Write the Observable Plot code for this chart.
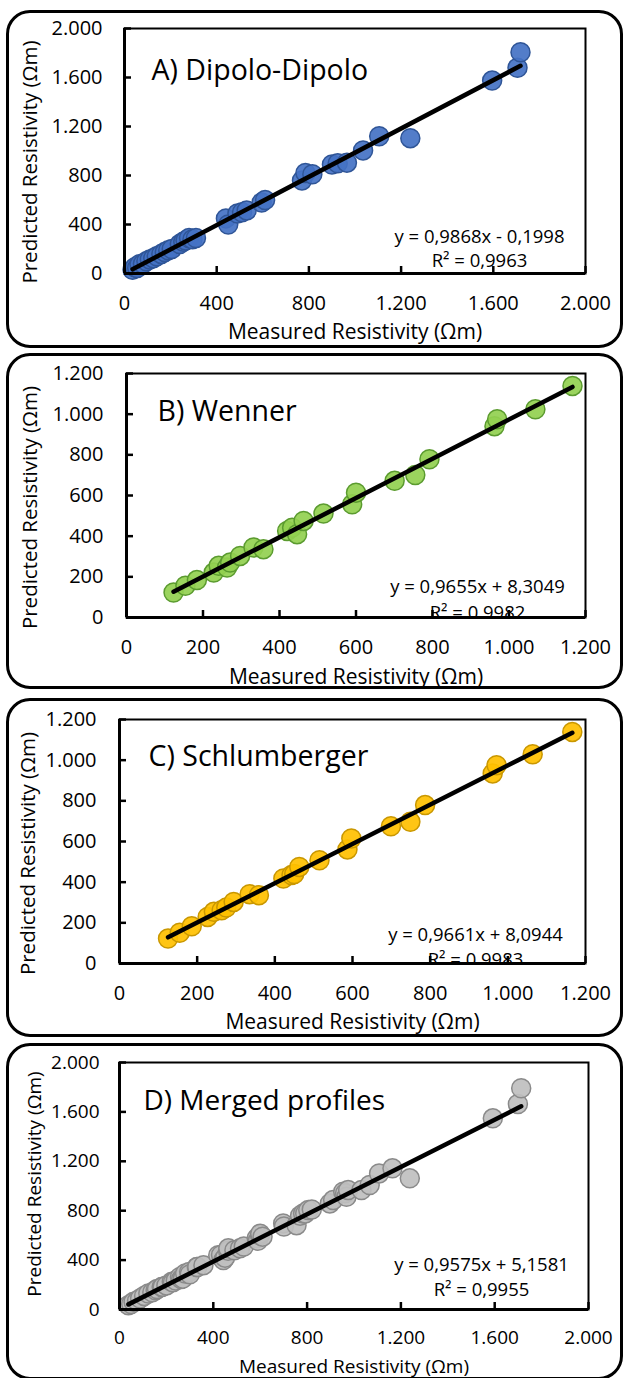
<!DOCTYPE html>
<html><head><meta charset="utf-8">
<script src="https://cdn.jsdelivr.net/npm/d3@7"></script>
<script src="https://cdn.jsdelivr.net/npm/@observablehq/plot@0.6"></script>
<style>
html,body{margin:0;padding:0;background:#fff;}
#wrap{position:relative;width:625px;height:1378px;overflow:hidden;font-family:"Open Sans",sans-serif;}
.box{position:absolute;border:3px solid #000;border-radius:24px;box-sizing:border-box;}
.panel{position:absolute;left:0;}
</style></head><body><div id="wrap"></div>
<script>
// ---------- data ----------
const panelTitles = ["A) Dipolo-Dipolo", "B) Wenner", "C) Schlumberger", "D) Merged profiles"];
const xAxisTitle = "Measured Resistivity (Ωm)";
const yAxisTitle = "Predicted Resistivity (Ωm)";

const dipoloMeasured  = [35, 45, 55, 65, 80, 95, 110, 125, 140, 160, 175, 190, 205, 240, 255, 265, 280, 295, 310, 440, 450, 490, 510, 530, 595, 610, 770, 785, 815, 900, 925, 965, 1035, 1105, 1240, 1595, 1705, 1718];
const dipoloPredicted = [30, 51, 45, 75, 80, 100, 115, 125, 140, 160, 175, 190, 200, 240, 260, 270, 290, 280, 290, 450, 400, 490, 500, 515, 580, 600, 760, 820, 810, 890, 900, 905, 1005, 1120, 1105, 1575, 1680, 1806];

const wennerMeasured  = [123, 154, 184, 228, 241, 263, 271, 297, 332, 358, 420, 433, 446, 463, 515, 590, 600, 701, 755, 792, 962, 969, 1069, 1166];
const wennerPredicted = [123, 156, 184, 221, 254, 246, 270, 303, 344, 336, 426, 442, 410, 475, 511, 557, 614, 672, 701, 778, 941, 975, 1024, 1139];

const schlumMeasured  = [125, 155, 186, 227, 243, 263, 275, 294, 335, 359, 422, 443, 450, 463, 515, 587, 597, 699, 749, 787, 961, 971, 1064, 1166];
const schlumPredicted = [123, 151, 183, 229, 254, 262, 275, 303, 341, 336, 418, 435, 440, 475, 508, 561, 615, 675, 697, 779, 935, 975, 1029, 1139];

const mergedMeasured  = [38, 50, 60, 75, 88, 105, 123, 140, 154, 160, 180, 184, 200, 223, 228, 240, 258, 263, 270, 280, 297, 300, 330, 332, 358, 421, 433, 443, 450, 463, 464, 490, 514, 530, 585, 590, 599, 600, 610, 698, 701, 755, 770, 783, 792, 805, 820, 897, 911, 954, 962, 968, 975, 1032, 1067, 1107, 1164, 1238, 1592, 1699, 1713];
const mergedPredicted = [35, 45, 62, 70, 89, 110, 130, 140, 156, 165, 183, 184, 195, 224, 221, 235, 264, 246, 250, 292, 303, 285, 345, 344, 359, 440, 442, 400, 420, 475, 495, 480, 495, 510, 576, 557, 602, 614, 590, 697, 672, 683, 760, 778, 778, 805, 810, 859, 886, 954, 941, 913, 967, 967, 1008, 1102, 1143, 1062, 1548, 1664, 1792];

const slopes     = [0.9868, 0.9655, 0.9661, 0.9575];
const intercepts = [-0.1998, 8.3049, 8.0944, 5.1581];
const rSquared   = [0.9963, 0.9982, 0.9983, 0.9955];

const ticks2000 = [0, 400, 800, 1200, 1600, 2000];
const ticks1200 = [0, 200, 400, 600, 800, 1000, 1200];

const fills   = ["#4472C4", "#92D050", "#FFC000", "#BFBFBF"];
const strokes = ["#2F5597", "#5B9B2F", "#C99700", "#8A8A8A"];

// ---------- layout ----------
const layouts = [
  {box:{top:10,left:6,width:617,height:338}, svgTop:0, h:350, ml:124, mr:40, mt:28, mb:77,
   title:{dx:27,dy:31,fs:28.5}, eq:{dx:-106,dy1:-44,dy2:-20,fs:18.5}, xl:{dy:51,fs:21}, yl:{dx:-94,dy:11,fs:20.5}, tfs:20, tpx:22, tpy:22},
  {box:{top:353,left:6,width:617,height:336}, svgTop:350, h:345, ml:126, mr:40, mt:23, mb:78,
   title:{dx:31,dy:27,fs:28.5}, eq:{dx:-108,dy1:-38,dy2:-12,fs:18.5}, xl:{dy:52,fs:21}, yl:{dx:-96,dy:12,fs:20.5}, tfs:20, tpx:22, tpy:23},
  {box:{top:698,left:6,width:617,height:339}, svgTop:695, h:345, ml:119, mr:40, mt:24, mb:77,
   title:{dx:29,dy:26,fs:28.5}, eq:{dx:-110,dy1:-36,dy2:-11,fs:18.5}, xl:{dy:51,fs:21}, yl:{dx:-91,dy:12,fs:20.5}, tfs:20, tpx:22, tpy:23},
  {box:{top:1043,left:6,width:617,height:337}, svgTop:1040, h:338, ml:119, mr:37, mt:22, mb:69,
   title:{dx:24,dy:28,fs:28}, eq:{dx:-107,dy1:-52,dy2:-27,fs:18.5}, xl:{dy:50,fs:19}, yl:{dx:-85,dy:-2,fs:19}, tfs:19, tpx:21, tpy:20}
];

const series = [
  [dipoloMeasured, dipoloPredicted, ticks2000],
  [wennerMeasured, wennerPredicted, ticks1200],
  [schlumMeasured, schlumPredicted, ticks1200],
  [mergedMeasured, mergedPredicted, ticks2000]
];

const fmtTick = v => d3.format(",")(v).replace(/,/g, ".");
const fmtDec = v => v.toFixed(4).replace(".", ",");

const wrap = document.getElementById("wrap");

series.forEach(([xs, ys, ticks], i) => {
  const L = layouts[i];
  const box = document.createElement("div");
  box.className = "box";
  Object.assign(box.style, {top: L.box.top + "px", left: L.box.left + "px", width: L.box.width + "px", height: L.box.height + "px"});
  wrap.appendChild(box);

  const pts = xs.map((x, k) => ({x, y: ys[k]}));
  const a = slopes[i], b = intercepts[i];
  const [x0, x1] = d3.extent(xs);
  const trend = [{x: x0, y: a * x0 + b}, {x: x1, y: a * x1 + b}];
  const eqText = `y = ${fmtDec(a)}x ${b < 0 ? "-" : "+"} ${fmtDec(Math.abs(b))}`;
  const r2Text = `R² = ${fmtDec(rSquared[i])}`;
  const dmax = ticks[ticks.length - 1];

  const chart = Plot.plot({
    width: 625, height: L.h,
    marginLeft: L.ml, marginRight: L.mr, marginTop: L.mt, marginBottom: L.mb,
    x: {domain: [0, dmax], axis: null},
    y: {domain: [0, dmax], axis: null},
    style: {fontFamily: "'Open Sans', sans-serif", color: "#000", background: "transparent", overflow: "visible"},
    marks: [
      Plot.frame({stroke: "#000", strokeWidth: 2}),
      Plot.dot(pts, {x: "x", y: "y", r: 9.5, fill: fills[i], fillOpacity: 0.92, stroke: strokes[i], strokeWidth: 1.5}),
      Plot.line(trend, {x: "x", y: "y", stroke: "#000", strokeWidth: 4.5}),
      Plot.ruleX([0], {stroke: "#000", strokeWidth: 3}),
      Plot.ruleY([0], {stroke: "#000", strokeWidth: 3}),
      Plot.axisX({ticks, tickSize: 7, dy: -7, tickFormat: () => "", strokeWidth: 2.5, label: null}),
      Plot.axisY({ticks, tickSize: 7, dx: 7, tickFormat: () => "", strokeWidth: 2.5, label: null}),
      Plot.axisX({ticks, tickSize: 0, tickPadding: L.tpx, tickFormat: fmtTick, fontSize: L.tfs, label: null, fill: "#000"}),
      Plot.axisY({ticks, tickSize: 0, tickPadding: L.tpy, tickFormat: fmtTick, fontSize: L.tfs, label: null, fill: "#000"}),
      Plot.text([panelTitles[i]], {frameAnchor: "top-left", dx: L.title.dx, dy: L.title.dy, textAnchor: "start", lineAnchor: "top", fontSize: L.title.fs, fill: "#000"}),
      Plot.text([eqText], {frameAnchor: "bottom-right", dx: L.eq.dx, dy: L.eq.dy1, textAnchor: "middle", lineAnchor: "top", fontSize: L.eq.fs, fill: "#000", clip: "frame"}),
      Plot.text([r2Text], {frameAnchor: "bottom-right", dx: L.eq.dx, dy: L.eq.dy2, textAnchor: "middle", lineAnchor: "top", fontSize: L.eq.fs, fill: "#000", clip: "frame"}),
      Plot.text([xAxisTitle], {frameAnchor: "bottom", dy: L.xl.dy, textAnchor: "middle", lineAnchor: "top", fontSize: L.xl.fs, fill: "#000"}),
      Plot.text([yAxisTitle], {frameAnchor: "left", dx: L.yl.dx, dy: L.yl.dy, rotate: -90, textAnchor: "middle", lineAnchor: "middle", fontSize: L.yl.fs, fill: "#000"})
    ]
  });
  chart.classList.add("panel");
  chart.style.top = L.svgTop + "px";
  wrap.appendChild(chart);
});
</script></body></html>
